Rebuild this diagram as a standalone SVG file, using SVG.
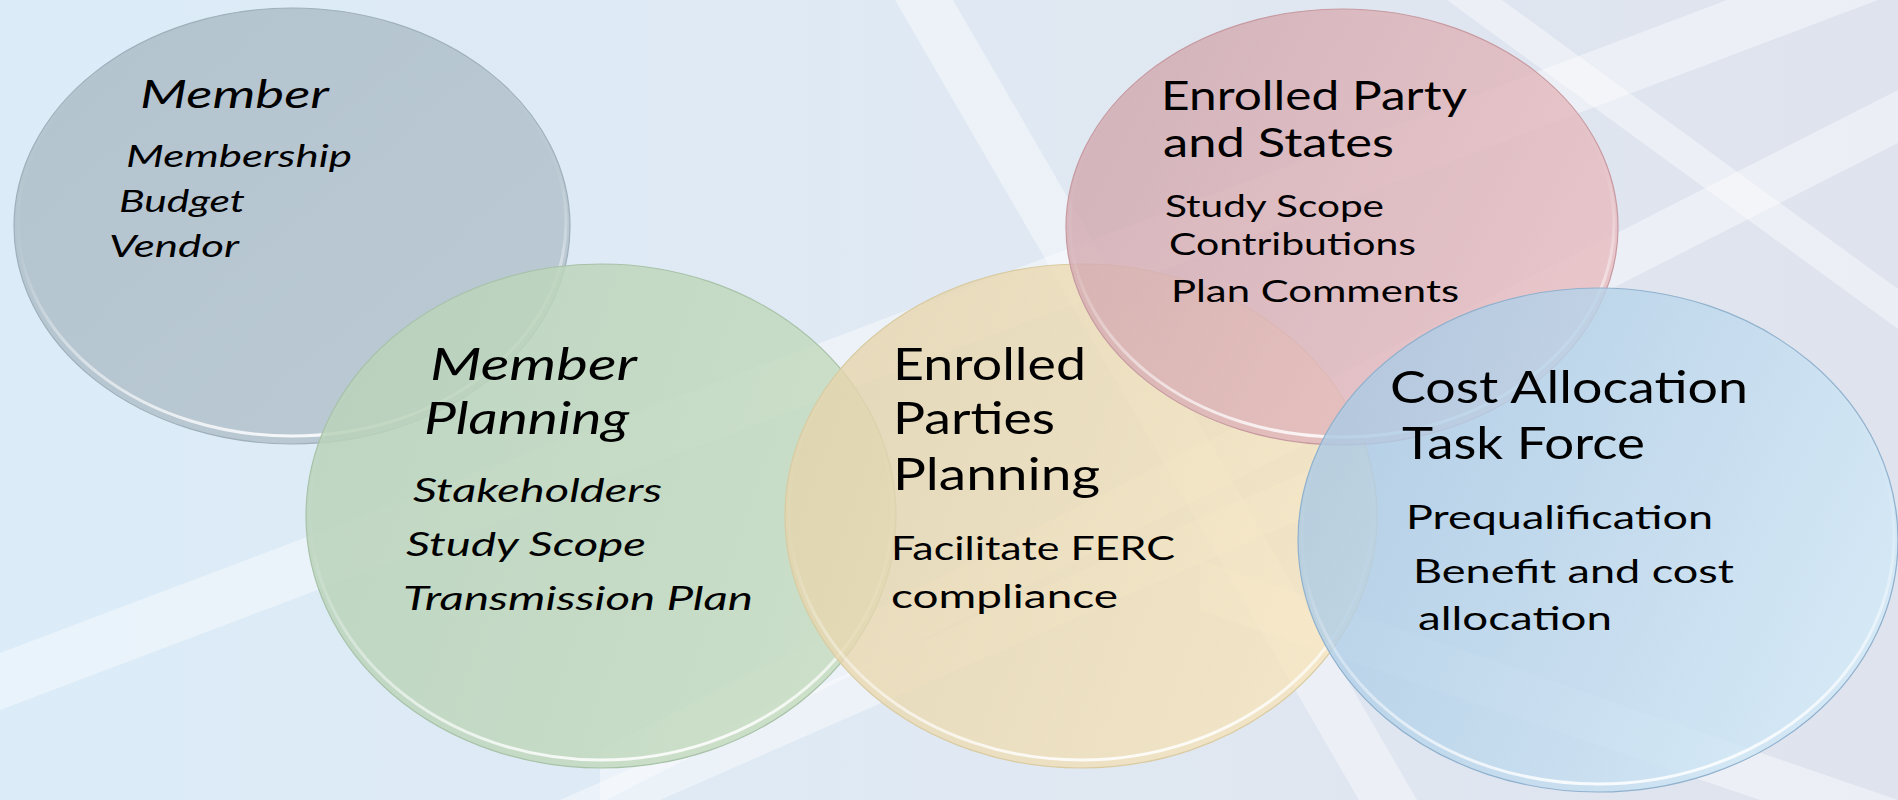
<svg xmlns="http://www.w3.org/2000/svg" width="1898" height="800" viewBox="0 0 1898 800">
<style>
.t{font-family:Lato,"Liberation Sans",sans-serif;fill:#000}
.i{font-style:italic}
.h{font-size:44px}
.s{font-size:32px}
.band{fill:#ffffff;opacity:0.4}
.rim{fill:none;stroke:url(#rimG);stroke-width:3}
</style>
<defs>
<linearGradient id="bg" x1="0" y1="0" x2="1" y2="0">
<stop offset="0" stop-color="#dbecf8"/>
<stop offset="0.5" stop-color="#e0e9f3"/>
<stop offset="1" stop-color="#dfe3ee"/>
</linearGradient>
<linearGradient id="rimG" x1="0.3" y1="0" x2="0.5" y2="1">
<stop offset="0" stop-color="#ffffff" stop-opacity="0"/>
<stop offset="0.5" stop-color="#ffffff" stop-opacity="0.05"/>
<stop offset="1" stop-color="#ffffff" stop-opacity="0.85"/>
</linearGradient>
<linearGradient id="gGray" x1="0" y1="0" x2="1" y2="1">
<stop offset="0" stop-color="#b0c0cb"/>
<stop offset="1" stop-color="#b8c7d0"/>
</linearGradient>
<linearGradient id="gGreen" x1="0" y1="0" x2="1" y2="0.3">
<stop offset="0" stop-color="#b7d1b9"/>
<stop offset="1" stop-color="#c6dcc0"/>
</linearGradient>
<linearGradient id="gYellow" x1="0" y1="0" x2="1" y2="0.3">
<stop offset="0" stop-color="#e3d2aa"/>
<stop offset="1" stop-color="#f6e4bc"/>
</linearGradient>
<linearGradient id="gPink" x1="0" y1="0" x2="1" y2="0.4">
<stop offset="0" stop-color="#cea6ad"/>
<stop offset="1" stop-color="#e7bcc0"/>
</linearGradient>
<linearGradient id="gBlue" x1="0" y1="0.2" x2="1" y2="0.6">
<stop offset="0" stop-color="#a8c7e2"/>
<stop offset="1" stop-color="#d2e9f7"/>
</linearGradient>
</defs>
<rect x="0" y="0" width="1898" height="800" fill="url(#bg)"/>
<g id="background-bands">
<polygon class="band" points="0,653 1727,0 1878,0 0,710"/>
<polygon class="band" points="895,0 953,0 1417,800 1359,800"/>
<polygon class="band" points="1447,0 1502,0 1898,289 1898,329"/>
<polygon class="band" points="600,750 1898,90 1898,143 600,803"/>
<polygon class="band" points="560,800 1333,460 1333,505 660,800"/>
<polygon class="band" points="1200,560 1898,800 1760,800 1200,610"/>
</g>
<g id="node-member">
<ellipse cx="292" cy="226" rx="278" ry="218" fill="url(#gGray)" fill-opacity="0.92" stroke="#9fb0bb" stroke-width="1.2"/>
<ellipse class="rim" cx="292" cy="222" rx="274" ry="214"/>
<text class="t i" x="140" y="108" font-size="38" textLength="189" lengthAdjust="spacingAndGlyphs">Member</text>
<text class="t i" x="126" y="167" font-size="30" textLength="226" lengthAdjust="spacingAndGlyphs">Membership</text>
<text class="t i" x="119" y="212" font-size="30" textLength="126" lengthAdjust="spacingAndGlyphs">Budget</text>
<text class="t i" x="109" y="257" font-size="30" textLength="130" lengthAdjust="spacingAndGlyphs">Vendor</text>
</g>
<g id="node-member-planning">
<ellipse cx="601" cy="516" rx="295" ry="252" fill="url(#gGreen)" fill-opacity="0.85" stroke="#a8c2a8" stroke-width="1.2"/>
<ellipse class="rim" cx="601" cy="512" rx="291" ry="248"/>
<text class="t i h" x="430" y="380" textLength="207" lengthAdjust="spacingAndGlyphs">Member</text>
<text class="t i h" x="424" y="434" textLength="205" lengthAdjust="spacingAndGlyphs">Planning</text>
<text class="t i s" x="413" y="502" textLength="249" lengthAdjust="spacingAndGlyphs">Stakeholders</text>
<text class="t i s" x="406" y="556" textLength="240" lengthAdjust="spacingAndGlyphs">Study Scope</text>
<text class="t i s" x="403" y="610" textLength="350" lengthAdjust="spacingAndGlyphs">Transmission Plan</text>
</g>
<g id="node-enrolled-parties-planning">
<ellipse cx="1081" cy="516" rx="296" ry="252" fill="url(#gYellow)" fill-opacity="0.8" stroke="#d9cba2" stroke-width="1.2"/>
<ellipse class="rim" cx="1081" cy="512" rx="292" ry="248"/>
<text class="t h" x="893" y="380" textLength="193" lengthAdjust="spacingAndGlyphs">Enrolled</text>
<text class="t h" x="893" y="434" textLength="162" lengthAdjust="spacingAndGlyphs">Parties</text>
<text class="t h" x="893" y="490" textLength="207" lengthAdjust="spacingAndGlyphs">Planning</text>
<text class="t s" x="891" y="560" textLength="284" lengthAdjust="spacingAndGlyphs">Facilitate FERC</text>
<text class="t s" x="891" y="608" textLength="227" lengthAdjust="spacingAndGlyphs">compliance</text>
</g>
<g id="node-enrolled-party-states">
<ellipse cx="1342" cy="227" rx="276" ry="218" fill="url(#gPink)" fill-opacity="0.82" stroke="#c79aa1" stroke-width="1.2"/>
<ellipse class="rim" cx="1342" cy="223" rx="272" ry="214"/>
<text class="t" x="1161" y="110" font-size="41" textLength="306" lengthAdjust="spacingAndGlyphs">Enrolled Party</text>
<text class="t" x="1163" y="157" font-size="41" textLength="231" lengthAdjust="spacingAndGlyphs">and States</text>
<text class="t" x="1165" y="217" font-size="31" textLength="219" lengthAdjust="spacingAndGlyphs">Study Scope</text>
<text class="t" x="1169" y="255" font-size="31" textLength="247" lengthAdjust="spacingAndGlyphs">Contributions</text>
<text class="t" x="1171" y="302" font-size="31" textLength="288" lengthAdjust="spacingAndGlyphs">Plan Comments</text>
</g>
<g id="node-cost-allocation">
<ellipse cx="1598" cy="540" rx="300" ry="252" fill="url(#gBlue)" fill-opacity="0.82" stroke="#90b1cd" stroke-width="1.2"/>
<ellipse class="rim" cx="1598" cy="536" rx="296" ry="248"/>
<text class="t" x="1390" y="403" font-size="44" textLength="358" lengthAdjust="spacingAndGlyphs">Cost Allocation</text>
<text class="t" x="1402" y="459" font-size="44" textLength="243" lengthAdjust="spacingAndGlyphs">Task Force</text>
<text class="t s" x="1406" y="529" textLength="307" lengthAdjust="spacingAndGlyphs">Prequalification</text>
<text class="t s" x="1413" y="583" textLength="321" lengthAdjust="spacingAndGlyphs">Benefit and cost</text>
<text class="t s" x="1418" y="630" textLength="194" lengthAdjust="spacingAndGlyphs">allocation</text>
</g>
<g id="connectors"></g>
</svg>
